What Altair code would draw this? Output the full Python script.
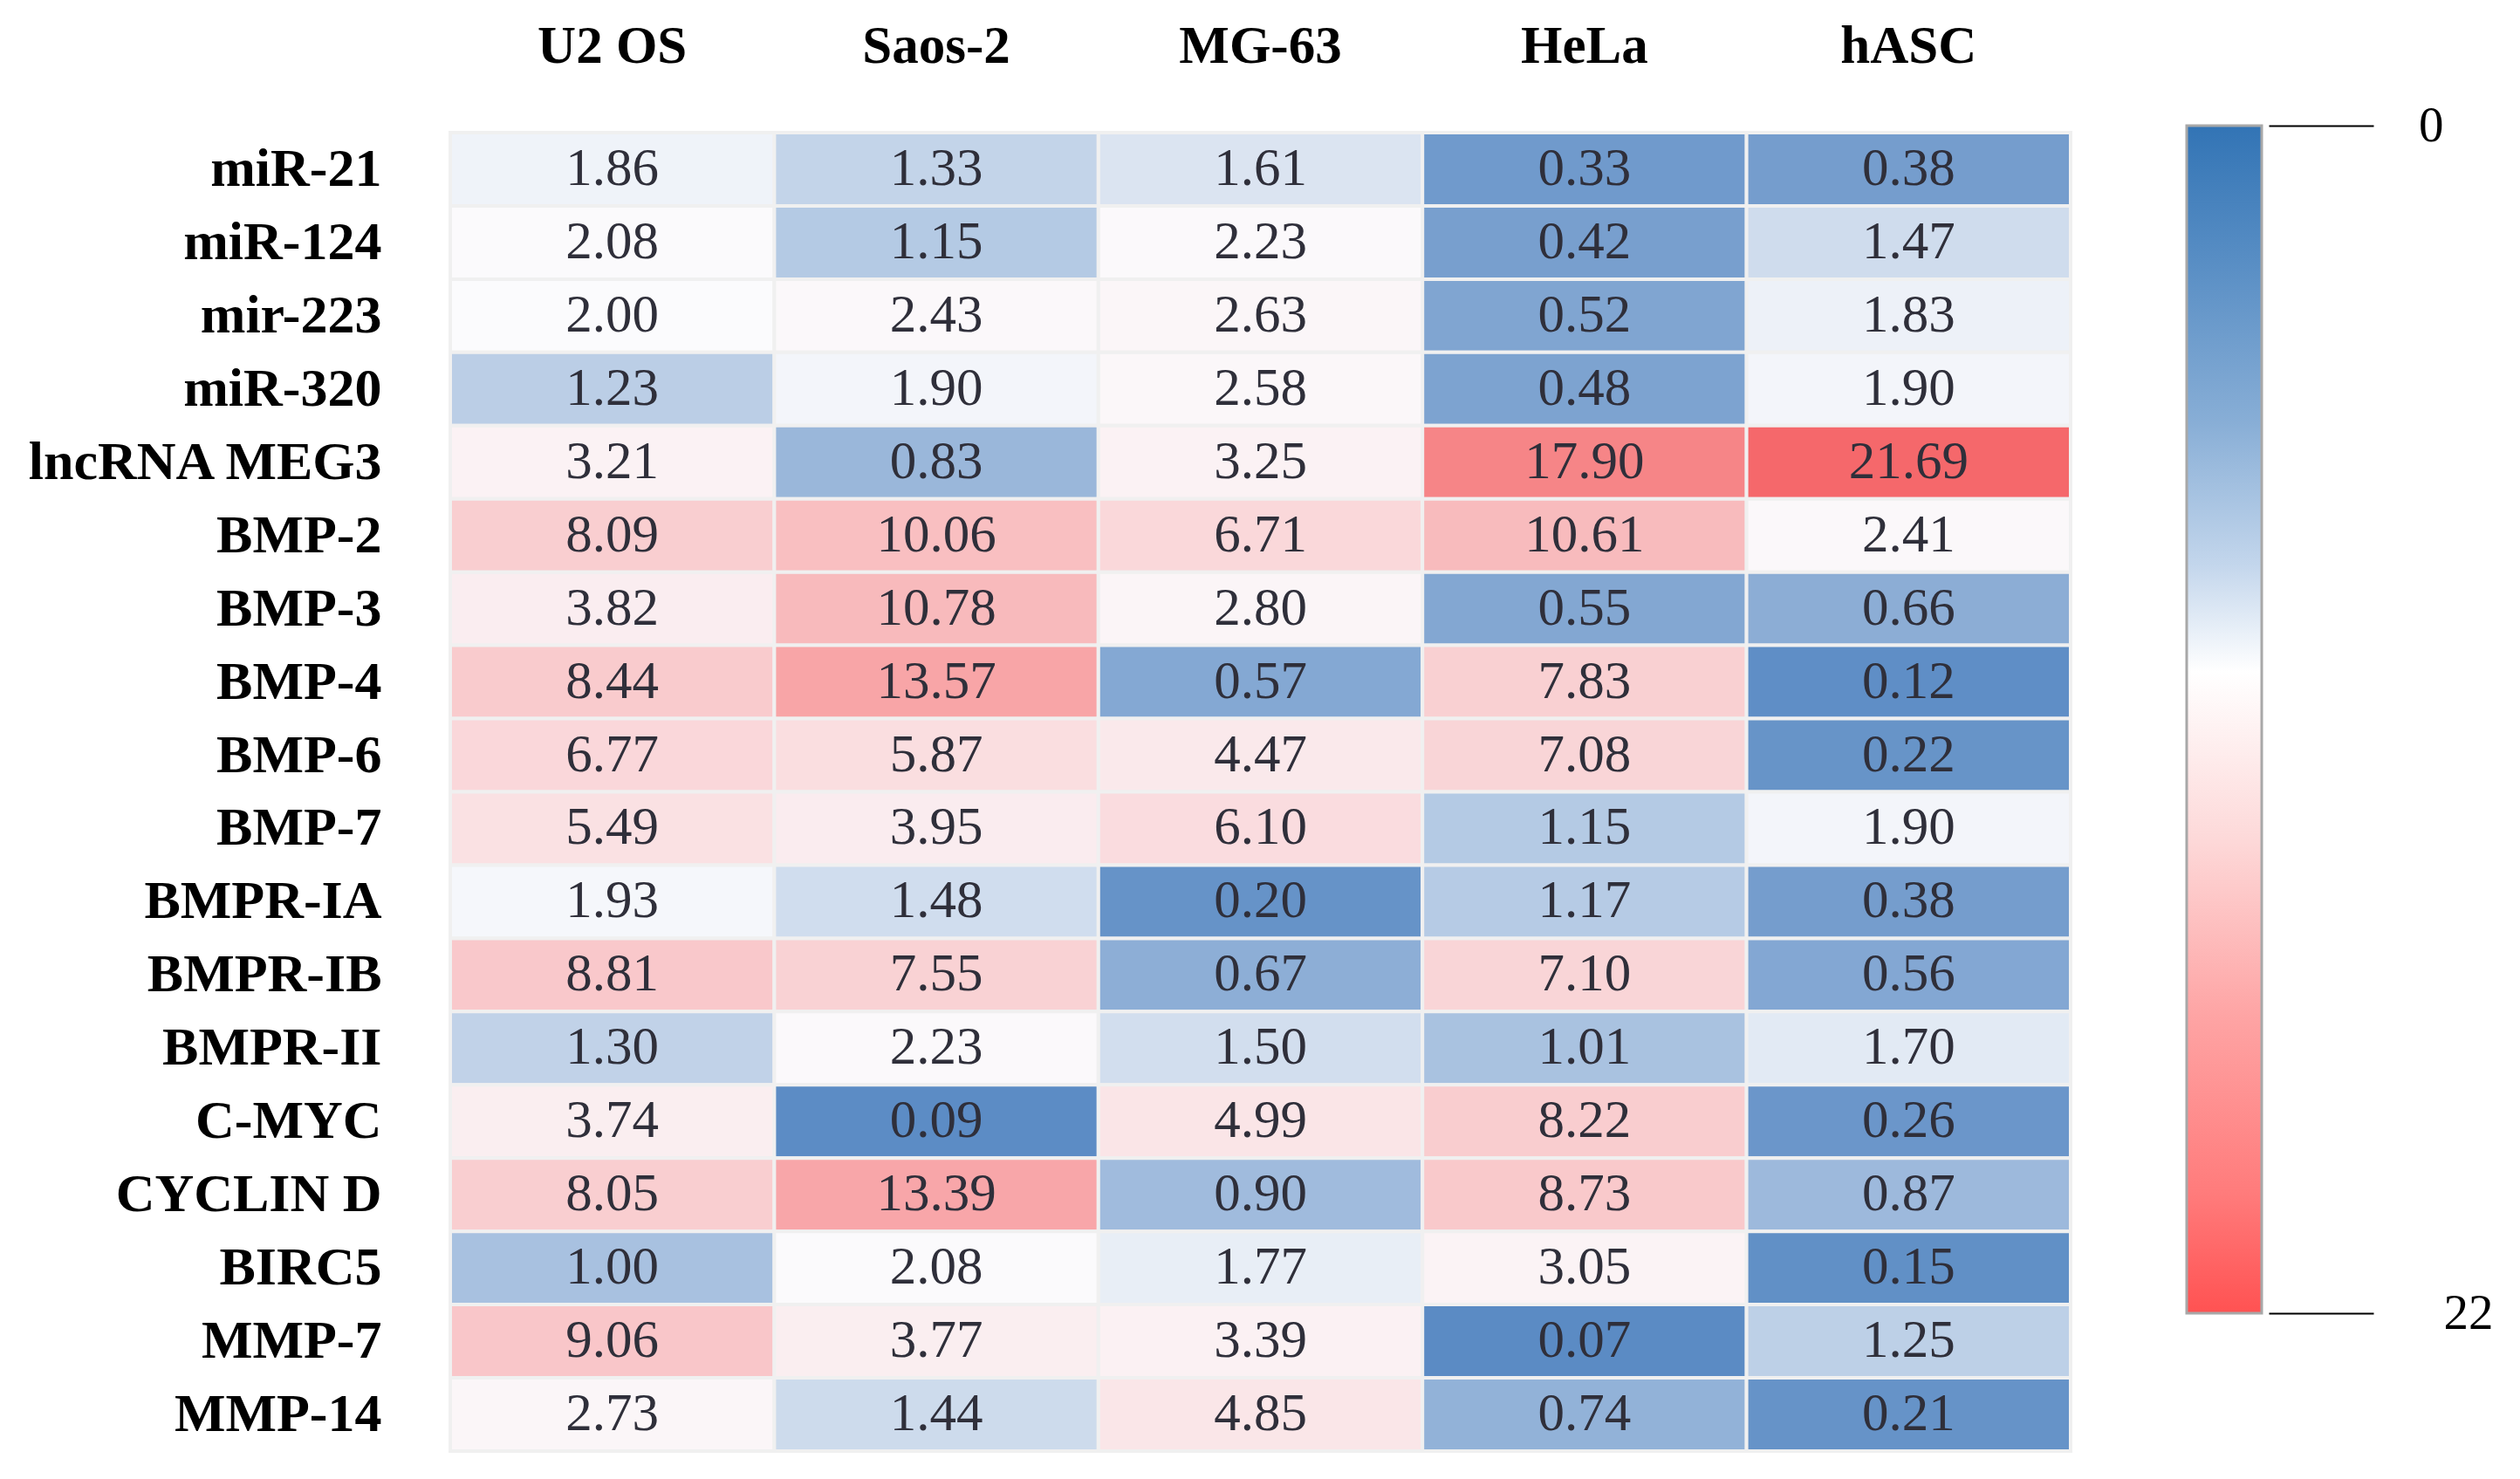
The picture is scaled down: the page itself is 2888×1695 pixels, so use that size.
import altair as alt
import pandas as pd

genes = ["miR-21", "miR-124", "mir-223", "miR-320", "lncRNA MEG3", "BMP-2", "BMP-3",
         "BMP-4", "BMP-6", "BMP-7", "BMPR-IA", "BMPR-IB", "BMPR-II", "C-MYC",
         "CYCLIN D", "BIRC5", "MMP-7", "MMP-14"]
cells = ["U2 OS", "Saos-2", "MG-63", "HeLa", "hASC"]

u2os = [1.86, 2.08, 2.00, 1.23, 3.21, 8.09, 3.82, 8.44, 6.77, 5.49, 1.93, 8.81, 1.30, 3.74, 8.05, 1.00, 9.06, 2.73]
saos2 = [1.33, 1.15, 2.43, 1.90, 0.83, 10.06, 10.78, 13.57, 5.87, 3.95, 1.48, 7.55, 2.23, 0.09, 13.39, 2.08, 3.77, 1.44]
mg63 = [1.61, 2.23, 2.63, 2.58, 3.25, 6.71, 2.80, 0.57, 4.47, 6.10, 0.20, 0.67, 1.50, 4.99, 0.90, 1.77, 3.39, 4.85]
hela = [0.33, 0.42, 0.52, 0.48, 17.90, 10.61, 0.55, 7.83, 7.08, 1.15, 1.17, 7.10, 1.01, 8.22, 8.73, 3.05, 0.07, 0.74]
hasc = [0.38, 1.47, 1.83, 1.90, 21.69, 2.41, 0.66, 0.12, 0.22, 1.90, 0.38, 0.56, 1.70, 0.26, 0.87, 0.15, 1.25, 0.21]

legend_ticks = [0, 22]

rows = []
for col, vals in zip(cells, [u2os, saos2, mg63, hela, hasc]):
    for g, v in zip(genes, vals):
        rows.append({"gene": g, "cell": col, "value": v})
df = pd.DataFrame(rows)

FONT = "Liberation Serif"

x = alt.X("cell:N", sort=cells,
          axis=alt.Axis(orient="top", title=None, labelAngle=0, labelFont=FONT,
                        labelFontWeight="bold", labelFontSize=61, labelColor="black",
                        labelPadding=68, ticks=False, domain=False, labelLimit=0))
y = alt.Y("gene:N", sort=genes,
          axis=alt.Axis(title=None, labelFont=FONT, labelFontWeight="bold",
                        labelFontSize=62, labelColor="black", labelPadding=79,
                        labelLimit=0, ticks=False, domain=False))

base = alt.Chart(df).encode(x=x, y=y)
rect = base.mark_rect(stroke="#f0f0f0", strokeWidth=4).encode(
    color=alt.Color("value:Q",
                    scale=alt.Scale(domain=[0, 2, 22],
                                    range=["#5587c2", "#fbfbfd", "#f56669"],
                                    interpolate="rgb"),
                    legend=None))
text = base.mark_text(font=FONT, fontSize=61, color="#2f2f3a").encode(
    text=alt.Text("value:Q", format=".2f"))
heat = (rect + text).properties(width=1857, height=1511)

gradient = alt.LinearGradient(
    gradient="linear",
    stops=[
        alt.GradientStop(offset=0.0, color="#3274b5"),
        alt.GradientStop(offset=0.12, color="#5a8fc5"),
        alt.GradientStop(offset=0.25, color="#88aed6"),
        alt.GradientStop(offset=0.37, color="#c3d6ec"),
        alt.GradientStop(offset=0.46, color="#ffffff"),
        alt.GradientStop(offset=0.6, color="#fdd9d9"),
        alt.GradientStop(offset=0.75, color="#fea4a4"),
        alt.GradientStop(offset=0.9, color="#ff7b7b"),
        alt.GradientStop(offset=1.0, color="#ff5252"),
    ],
    x1=0, x2=0, y1=0, y2=1)

bar_df = pd.DataFrame({"lo": [legend_ticks[0]], "hi": [legend_ticks[1]]})
bar = alt.Chart(bar_df).mark_rect(fill=gradient, stroke="#a8a8a8", strokeWidth=3).encode(
    x=alt.value(0), x2=alt.value(86),
    y=alt.Y("lo:Q",
            scale=alt.Scale(domain=legend_ticks, range=[-8, 1353], nice=False, zero=False),
            axis=alt.Axis(orient="right", values=legend_ticks, title=None, tickSize=120,
                          tickWidth=2, tickColor="black", domain=False, grid=False,
                          offset=8, labelPadding=80, labelFont=FONT, labelFontSize=57,
                          labelColor="black", labelBaseline="middle",
                          labelAlign=alt.condition("datum.value == 0", alt.value("right"), alt.value("left")))),
    y2="hi:Q",
).properties(width=86, height=1361)

chart = alt.hconcat(heat, bar, spacing=133, bounds="flush").configure_view(
    stroke=None
).properties(padding={"left": 20, "top": 14, "right": 5, "bottom": 5})

chart.save("out.html", embed_options={"renderer": "svg", "actions": False})
